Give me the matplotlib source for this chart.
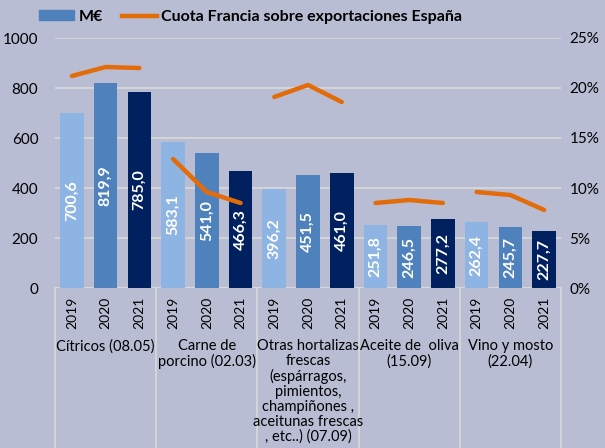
import numpy as np
import matplotlib.pyplot as plt
from matplotlib.patches import Patch
from matplotlib.lines import Line2D
from matplotlib.ticker import PercentFormatter
import matplotlib.transforms as mtransforms

plt.rcParams['font.family'] = ['Lato', 'DejaVu Sans']

# data
years = ['2019', '2020', '2021']
categories = ['Cítricos (08.05)',
              'Carne de\nporcino (02.03)',
              'Otras hortalizas\nfrescas\n(espárragos,\npimientos,\nchampiñones ,\naceitunas frescas\n, etc..) (07.09)',
              'Aceite de  oliva\n(15.09)',
              'Vino y mosto\n(22.04)']
meur = [[700.6, 819.9, 785.0],
        [583.1, 541.0, 466.3],
        [396.2, 451.5, 461.0],
        [251.8, 246.5, 277.2],
        [262.4, 245.7, 227.7]]
cuota = [[21.2, 22.1, 22.0],
         [12.9, 9.6, 8.5],
         [19.1, 20.3, 18.6],
         [8.5, 8.8, 8.5],
         [9.6, 9.3, 7.8]]

bg = '#B8BDD3'
bar_cols = ['#8DB4E2', '#4F81BD', '#002060']
orange = '#E36C09'
grid_col = '#D9D9D9'

fig = plt.figure(figsize=(6.05, 4.48), dpi=100, facecolor=bg)
ax = fig.add_axes([55/605, 1-288/448, 506/605, 250/448])
ax.set_facecolor(bg)
ax2 = ax.twinx()

n = len(years)
for g, vals in enumerate(meur):
    xs = np.arange(n) + g*n
    for i, v in enumerate(vals):
        ax.bar(xs[i], v, width=0.7, color=bar_cols[i], zorder=2)
        ax.text(xs[i], v/2, f'{v:.1f}'.replace('.', ','), rotation=90,
                ha='center', va='center', color='white', fontsize=11.5,
                fontweight='bold', zorder=3)
    ax2.plot(xs, np.array(cuota[g])/100, color=orange, lw=3.2,
             solid_capstyle='round', zorder=4)

ax.set_xlim(-0.5, len(meur)*n - 0.5)
ax.set_ylim(0, 1000)
ax.set_yticks(range(0, 1001, 200))
ax.yaxis.grid(True, color=grid_col, lw=1.2, zorder=0)
ax.set_axisbelow(True)
ax2.set_ylim(0, 0.25)
ax2.set_yticks(np.arange(0, 0.26, 0.05))
ax2.yaxis.set_major_formatter(PercentFormatter(1.0, decimals=0))

ax.set_xticks(np.arange(len(meur)*n))
ax.set_xticklabels(years*len(meur), rotation=90, fontsize=10)
for a in (ax, ax2):
    a.tick_params(length=0, labelsize=11, colors='black')
    for s in a.spines.values():
        s.set_visible(False)
ax.tick_params(axis='x', labelsize=10, pad=6)
ax.tick_params(axis='y', pad=12)
ax2.tick_params(axis='y', pad=6)
ax2.set_zorder(ax.get_zorder()+1)
ax2.patch.set_visible(False)

# axis line and group separators below the plot
ax.axhline(0, color=grid_col, lw=1.2, zorder=1)
trans = mtransforms.blended_transform_factory(ax.transData, ax.transAxes)
for xb in np.arange(-0.5, len(meur)*n, n):
    ax.plot([xb, xb], [0, -0.66], color=grid_col, lw=1.2, transform=trans,
            clip_on=False)
for g, name in enumerate(categories):
    ax.text(g*n + 1, -0.205, name, transform=trans, ha='center', va='top',
            fontsize=10.5, linespacing=1.08)

handles = [Patch(color=bar_cols[1]),
           Line2D([], [], color=orange, lw=3.2)]
fig.legend(handles, ['M€', 'Cuota Francia sobre exportaciones España'],
           loc='center', bbox_to_anchor=(0.414, 0.962), ncol=2, frameon=False,
           prop={'weight': 'bold', 'size': 11.5}, handlelength=2.2,
           handleheight=0.6, handletextpad=0.25, columnspacing=1.2)

fig.savefig('out.png', dpi=100, facecolor=bg)
